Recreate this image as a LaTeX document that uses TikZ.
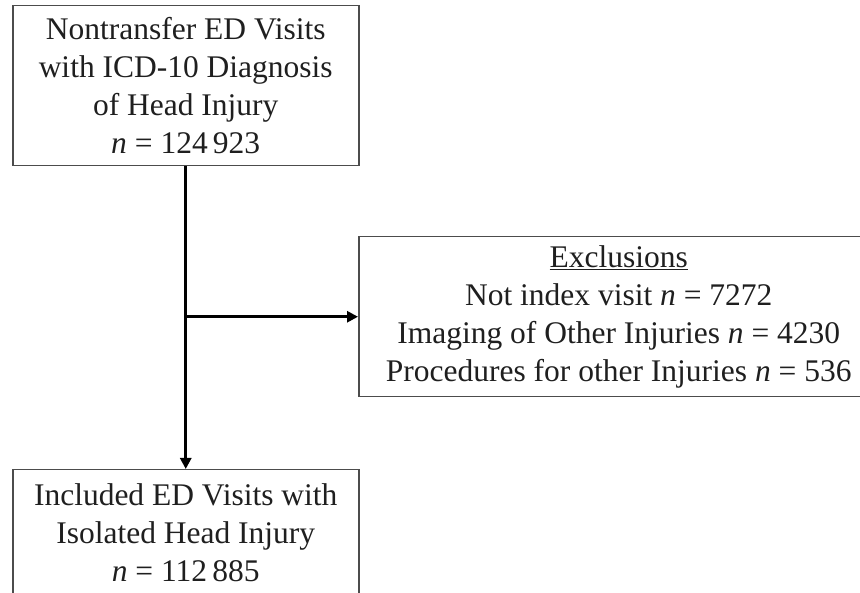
\documentclass[tikz,border=0pt]{standalone}
\usepackage{fontspec}
\setmainfont{Liberation Serif}
\usetikzlibrary{arrows.meta}
\begin{document}
\begin{tikzpicture}[x=1pt, y=-1pt,
        box/.style={draw=black!70, line width=1.5pt, anchor=north west, align=center,
            inner sep=0pt, text=black!88, font=\fontsize{31.5}{38}\selectfont},
        flow/.style={draw=black, line width=3pt, -{Triangle[length=11pt,width=11pt]}}]
        \useasboundingbox (0,0) rectangle (860,593);
        \clip (0,0) rectangle (860,593);

        \node[box, minimum width=346pt, minimum height=160pt] (visits) at (12,5)
            {Nontransfer ED Visits\\with ICD-10 Diagnosis\\of Head Injury\\\textit{n} = 124\,923};
        \node[box, minimum width=520pt, minimum height=160pt] (excl) at (358,236)
            {\underline{Exclusions}\\Not index visit \textit{n} = 7272\\Imaging of Other Injuries \textit{n} = 4230\\Procedures for other Injuries \textit{n} = 536};
        \node[box, minimum width=346pt, minimum height=125pt] (included) at (12,469)
            {Included ED Visits with\\Isolated Head Injury\\\textit{n} = 112\,885};

        \coordinate (split) at (visits.south |- excl.west);
        \draw[flow] (visits.south) -- (included.north);
        \draw[flow] (split) -- (excl.west);
    \end{tikzpicture}
\end{document}
